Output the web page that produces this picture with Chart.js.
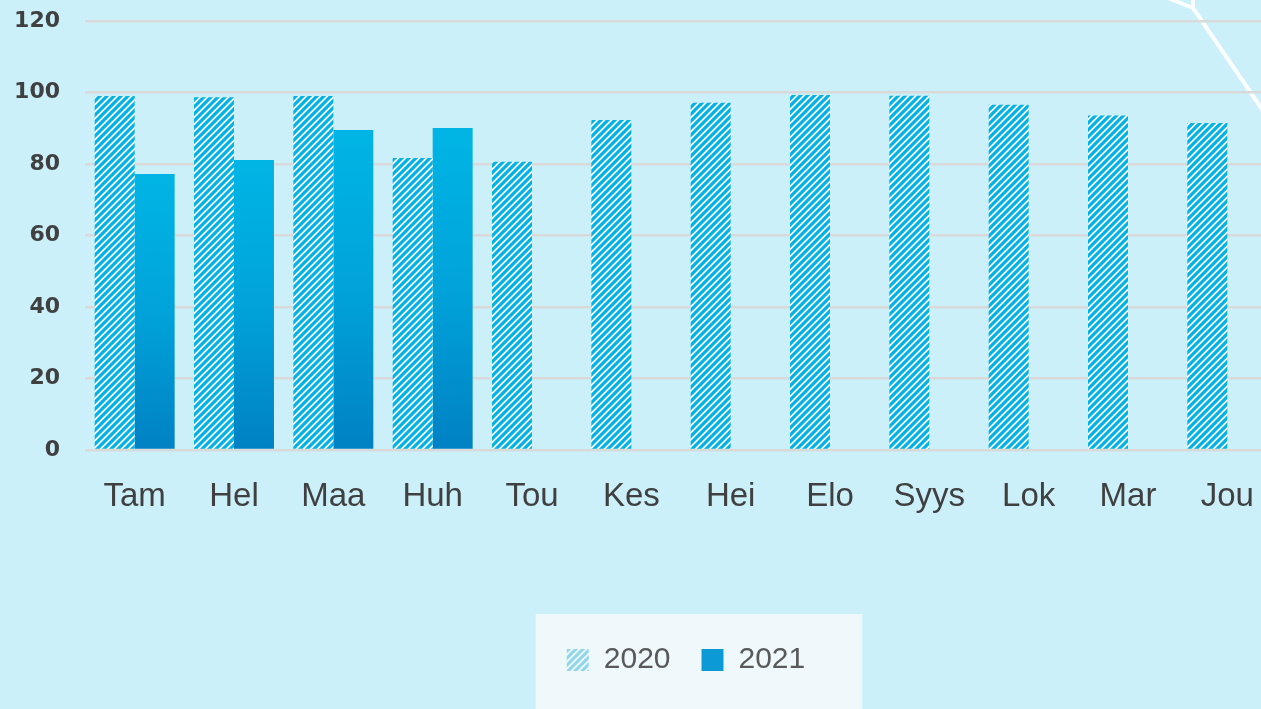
<!DOCTYPE html>
<html>
<head>
<meta charset="utf-8">
<script src="https://cdn.jsdelivr.net/npm/chart.js@4"></script>
<style>
  html, body { margin: 0; padding: 0; overflow: hidden; background: #cbf0fa; }
  #wrap { width: 1372px; height: 709px; }
</style>
</head>
<body>
<div id="wrap"><canvas id="chart" width="1372" height="709"></canvas></div>
<script>
// chart data
const months = ["Tam", "Hel", "Maa", "Huh", "Tou", "Kes", "Hei", "Elo", "Syys", "Lok", "Mar", "Jou"];
const values2020 = [99, 98.7, 99, 81.7, 80.6, 92.3, 97.1, 99.3, 99.1, 96.6, 93.6, 91.5];
const values2021 = [77.2, 81.1, 89.5, 90.1, null, null, null, null, null, null, null, null];
const seriesNames = ["2020", "2021"];
const yTicks = [0, 20, 40, 60, 80, 100, 120];

// hatch for 2020 bars
function makeHatch(fg, bg, size, lw) {
  const c = document.createElement("canvas");
  c.width = size;
  c.height = size;
  const g = c.getContext("2d");
  g.fillStyle = bg;
  g.fillRect(0, 0, size, size);
  g.strokeStyle = fg;
  g.lineWidth = lw;
  g.beginPath();
  g.moveTo(-size, size * 2);
  g.lineTo(size * 2, -size);
  g.moveTo(-size, size);
  g.lineTo(size, -size);
  g.moveTo(0, size * 2);
  g.lineTo(size * 2, 0);
  g.stroke();
  return g.createPattern(c, "repeat");
}
const ctx = document.getElementById("chart").getContext("2d");
const hatch = makeHatch("#00b2e6", "#ffffff", 7, 3.2);
const legendHatch = makeHatch("#8fd6ea", "#e9f7fb", 7, 3);

// per bar gradient for 2021
function barGradient(c) {
  const chart = c.chart;
  if (!chart.chartArea || c.raw == null) return "#00a6dd";
  const y = chart.scales.y;
  const top = y.getPixelForValue(c.raw);
  const bottom = y.getPixelForValue(0);
  const g = chart.ctx.createLinearGradient(0, top, 0, bottom);
  g.addColorStop(0, "#00b5e5");
  g.addColorStop(0.5, "#00a3da");
  g.addColorStop(1, "#0081c4");
  return g;
}

const backdrop = {
  id: "backdrop",
  beforeDraw(chart) {
    const c = chart.ctx;
    c.save();
    c.fillStyle = "#cbf0fa";
    c.fillRect(0, 0, chart.width, chart.height);
    // white decorative strokes top right
    c.strokeStyle = "rgba(255,255,255,0.95)";
    c.lineWidth = 4;
    c.lineCap = "round";
    c.beginPath();
    c.moveTo(1168, -2);
    c.lineTo(1193, 8);
    c.moveTo(1193, -2);
    c.lineTo(1193, 8);
    c.lineTo(1300, 165);
    c.stroke();
    // legend panel
    const lg = chart.legend;
    if (lg && lg.legendHitBoxes && lg.legendHitBoxes.length) {
      const hb = lg.legendHitBoxes;
      const last = hb[hb.length - 1];
      const x0 = hb[0].left - 31;
      const x1 = last.left + last.width + 57;
      c.fillStyle = "#eff8fb";
      c.fillRect(x0, lg.top, x1 - x0, chart.height - lg.top);
    }
    c.restore();
  }
};

new Chart(ctx, {
  type: "bar",
  data: {
    labels: months,
    datasets: [
      {
        label: seriesNames[0],
        data: values2020,
        backgroundColor: hatch,
        borderWidth: 0,
      },
      {
        label: seriesNames[1],
        data: values2021,
        backgroundColor: barGradient,
        borderWidth: 0,
      },
    ],
  },
  options: {
    responsive: false,
    animation: false,
    events: [],
    layout: { padding: { left: 0, right: 0, top: 21, bottom: 24 } },
    datasets: {
      bar: { categoryPercentage: 0.805, barPercentage: 1.0 },
    },
    scales: {
      x: {
        grid: { display: false },
        border: { display: false },
        ticks: {
          color: "#404040",
          padding: 19,
          font: { family: "Liberation Sans", size: 33 },
        },
        afterFit: (s) => { s.height = 164; },
      },
      y: {
        min: 0,
        max: 120,
        afterBuildTicks: (s) => { s.ticks = yTicks.map((v) => ({ value: v })); },
        grid: { color: "#d9d9d9", lineWidth: 2.5, drawTicks: false },
        border: { display: false },
        ticks: {
          color: "#404040",
          padding: 25,
          font: { family: "DejaVu Sans", size: 22, weight: "bold" },
        },
        afterFit: (s) => {
          s.width = 85;
          s.paddingTop = 0;
          s.paddingBottom = 0;
        },
      },
      y2: {
        position: "right",
        display: true,
        grid: { display: false },
        border: { display: false },
        ticks: { display: false },
        afterFit: (s) => { s.width = 95; },
      },
    },
    plugins: {
      tooltip: { enabled: false },
      legend: {
        position: "bottom",
        labels: {
          color: "#595959",
          font: { family: "Liberation Sans", size: 30 },
          boxWidth: 22,
          boxHeight: 22,
          padding: 31,
          generateLabels: (chart) => {
            const items = Chart.defaults.plugins.legend.labels.generateLabels(chart);
            items[0].fillStyle = legendHatch;
            items[1].fillStyle = "#0b9ad6";
            items.forEach((it) => { it.lineWidth = 0; it.strokeStyle = "rgba(0,0,0,0)"; });
            return items;
          },
        },
      },
    },
  },
  plugins: [backdrop],
});
</script>
</body>
</html>
